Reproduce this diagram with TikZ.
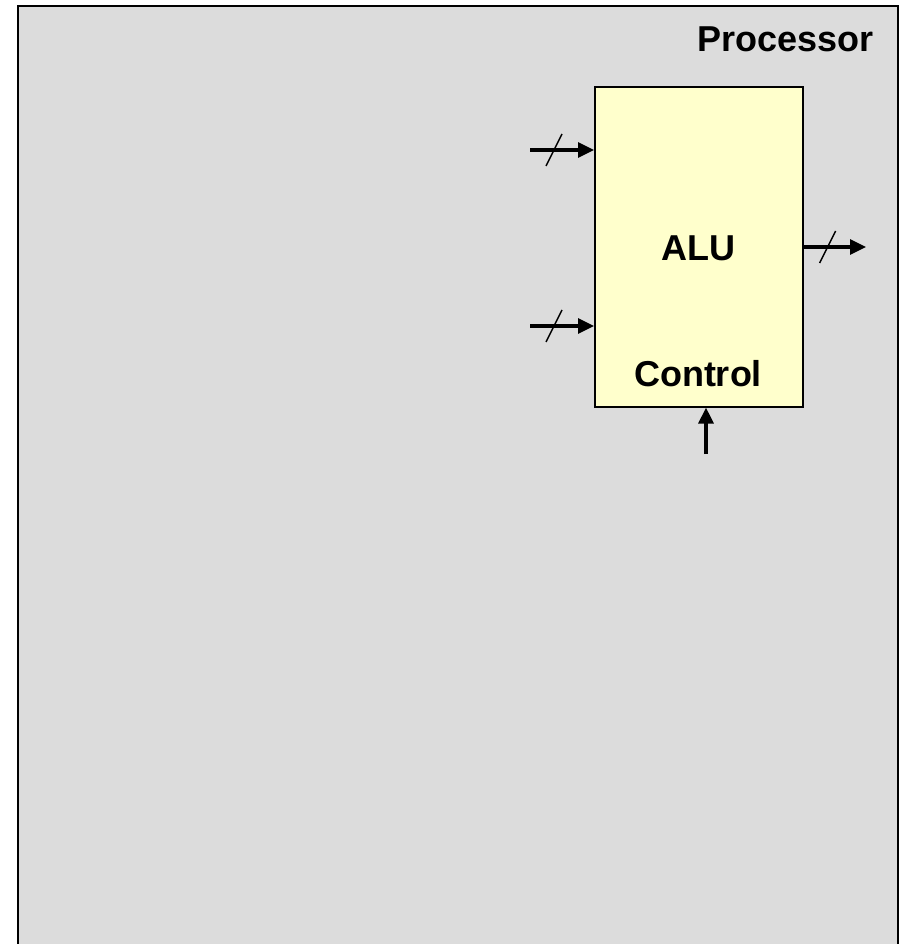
\documentclass[tikz,border=0pt]{standalone}
\usepackage{fontspec}
\setmainfont{Liberation Sans}
\usetikzlibrary{arrows.meta,calc}
\definecolor{bggray}{RGB}{220,220,220}
\definecolor{aluyellow}{RGB}{255,255,204}
\tikzset{
  x=1pt, y=-1pt,
  frame/.style={draw=black, line width=2.4pt, fill=bggray},
  alubox/.style={draw=black, line width=1.6pt, fill=aluyellow, minimum width=208pt, minimum height=320pt, inner sep=0pt},
  lbl/.style={font=\bfseries\fontsize{36}{40}\selectfont, inner sep=0pt},
  bus/.style={line width=3.2pt, -{Triangle[length=16pt,width=15pt]}},
  slash/.style={line width=1.5pt},
}
\begin{document}
\begin{tikzpicture}
\useasboundingbox (0,0) rectangle (899,944);
\draw[frame] (18,960) -- (18,6) -- (898,6) -- (898,960);
\node[alubox, anchor=north west] (alu) at (594,86) {};
\node[lbl, anchor=base east] (proc) at (874,52) {Processor};
\node[lbl] (alutxt) at (698,248) {ALU};
\node[lbl] (ctrl) at (698,374) {Control};
\coordinate (in1) at (530,150);
\coordinate (in2) at (530,326);
\coordinate (outp) at (866,247);
\coordinate (cin) at (706,454);
\coordinate (outs) at ($(outp -| alu.east)+(24,0)$);
\draw[bus] (in1) -- (in1 -| alu.west);
\draw[bus] (in2) -- (in2 -| alu.west);
\draw[bus] (outp -| alu.east) -- (outp);
\draw[bus] (cin) -- (cin |- alu.south);
\draw[slash] ($(in1)+(16,16)$) -- ($(in1)+(32,-16)$);
\draw[slash] ($(in2)+(16,16)$) -- ($(in2)+(32,-16)$);
\draw[slash] ($(outs)+(-8,16)$) -- ($(outs)+(8,-16)$);
\end{tikzpicture}
\end{document}
